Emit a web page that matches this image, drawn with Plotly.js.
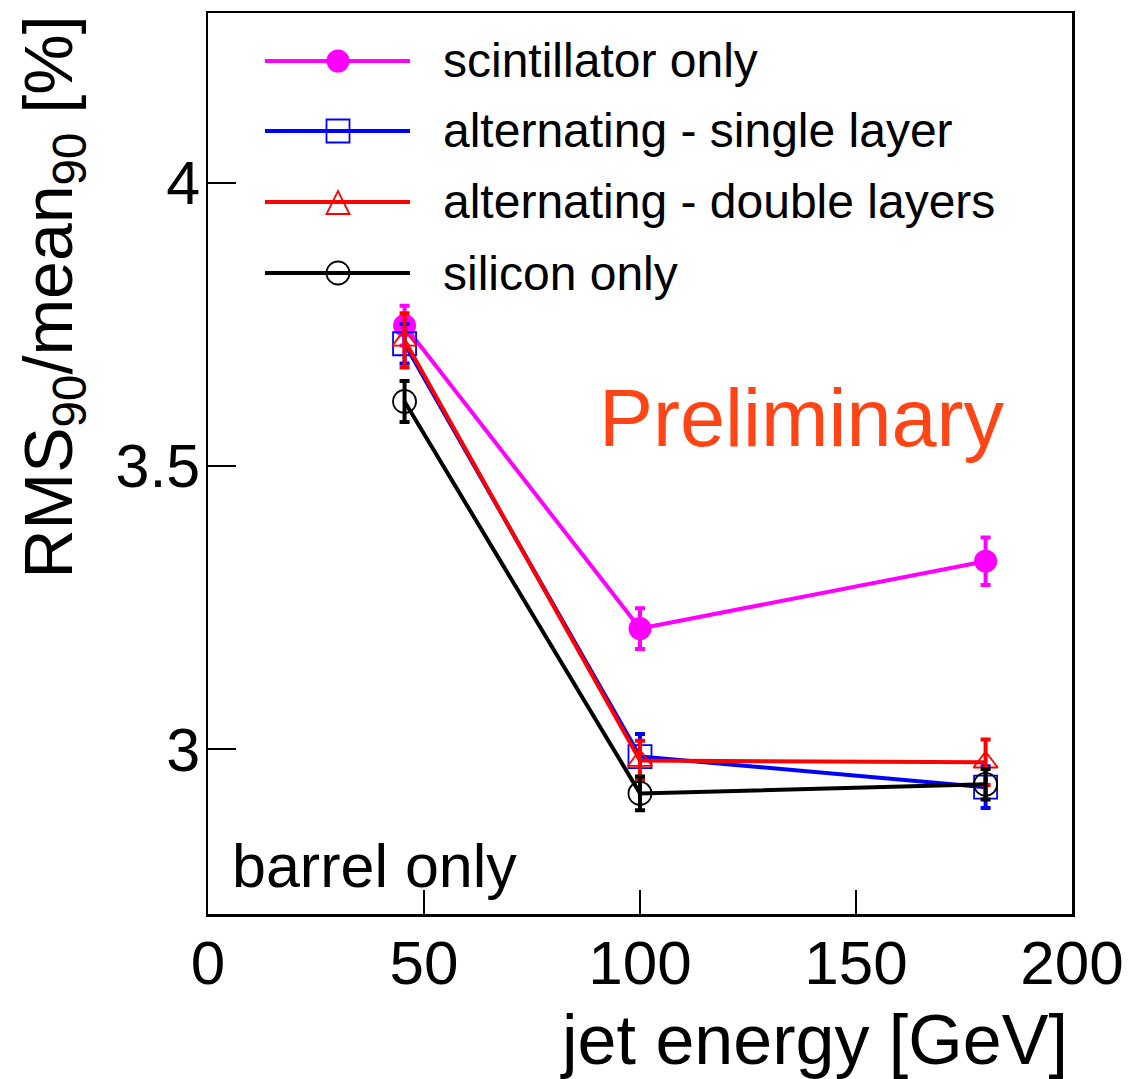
<!DOCTYPE html>
<html>
<head>
<meta charset="utf-8">
<script src="https://cdn.plot.ly/plotly-3.0.1.min.js"></script>
<style>html,body{margin:0;padding:0;background:#fff;}#chart{width:1129px;height:1079px;}</style>
</head>
<body>
<div id="chart"></div>
<script>
// ---- data ----
var energy = [45.5, 100, 180];
var seriesNames = ["scintillator only", "alternating - single layer", "alternating - double layers", "silicon only"];
var scintVal = [3.748, 3.213, 3.332];
var scintErr = [0.035, 0.036, 0.042];
var singleVal = [3.716, 2.987, 2.933];
var singleErr = [0.035, 0.040, 0.037];
var doubleVal = [3.722, 2.980, 2.977];
var doubleErr = [0.048, 0.035, 0.040];
var siliconVal = [3.614, 2.922, 2.938];
var siliconErr = [0.036, 0.030, 0.027];
var xTicks = [0, 50, 100, 150, 200];
var yTicks = [3, 3.5, 4];

var FONT = "Liberation Sans, Arial, Helvetica, sans-serif";
var colors = ["#ff00ff", "#0000ff", "#ff0000", "#000000"];
var symbols = ["circle", "square-open", "triangle-up-open", "circle-open"];
var sizes = [23, 23, 21, 23];
var vals = [scintVal, singleVal, doubleVal, siliconVal];
var errs = [scintErr, singleErr, doubleErr, siliconErr];

var traces = vals.map(function (v, i) {
  return {
    x: energy, y: v, name: seriesNames[i], type: "scatter", mode: "lines+markers",
    line: {color: colors[i], width: 4},
    marker: {symbol: symbols[i], size: sizes[i], color: colors[i],
             line: {color: colors[i], width: i === 0 ? 0 : 1.8}},
    error_y: {type: "data", array: errs[i], visible: true, color: colors[i], thickness: 4, width: 5},
    showlegend: false
  };
});

// ---- custom ROOT-style legend (paper coordinates) ----
var L = 208, T = 13, W = 864, H = 901;
function px(x) { return (x - L) / W; }
function py(y) { return (T + H - y) / H; }
var rowsY = [61, 131, 202, 273];
var shapes = [];
var annotations = [];
rowsY.forEach(function (ry, i) {
  shapes.push({type: "line", xref: "paper", yref: "paper", x0: px(265), x1: px(410), y0: py(ry), y1: py(ry),
               line: {color: colors[i], width: 4}});
  var base = {xref: "paper", yref: "paper", xsizemode: "pixel", ysizemode: "pixel",
              xanchor: px(338), yanchor: py(ry)};
  var m;
  if (i === 0) {
    m = Object.assign({type: "circle", x0: -11.5, x1: 11.5, y0: -11.5, y1: 11.5,
                       fillcolor: colors[i], line: {color: colors[i], width: 0}}, base);
  } else if (i === 1) {
    m = Object.assign({type: "rect", x0: -11.5, x1: 11.5, y0: -11.5, y1: 11.5,
                       fillcolor: "rgba(0,0,0,0)", line: {color: colors[i], width: 1.8}}, base);
  } else if (i === 2) {
    m = Object.assign({type: "path", path: "M -11.5,-12 L 11.5,-12 L 0,11 Z",
                       fillcolor: "rgba(0,0,0,0)", line: {color: colors[i], width: 1.8}}, base);
  } else {
    m = Object.assign({type: "circle", x0: -11.5, x1: 11.5, y0: -11.5, y1: 11.5,
                       fillcolor: "rgba(0,0,0,0)", line: {color: colors[i], width: 1.8}}, base);
  }
  shapes.push(m);
  annotations.push({xref: "paper", yref: "paper", x: px(441), y: py(ry), xanchor: "left", yanchor: "middle",
                    text: seriesNames[i], showarrow: false, font: {family: FONT, size: 48, color: "#000"}});
});

annotations.push({xref: "paper", yref: "paper", x: px(597), y: py(418), xanchor: "left", yanchor: "middle",
                  text: "Preliminary", showarrow: false, font: {family: FONT, size: 81, color: "#ff4515"}});
annotations.push({xref: "paper", yref: "paper", x: px(230), y: py(866), xanchor: "left", yanchor: "middle",
                  text: "barrel only", showarrow: false, font: {family: FONT, size: 61, color: "#000"}});
annotations.push({xref: "paper", yref: "paper", x: px(1070), y: py(1040), xanchor: "right", yanchor: "middle",
                  text: "jet energy [GeV]", showarrow: false, font: {family: FONT, size: 70, color: "#000"}});
annotations.push({xref: "paper", yref: "paper", x: px(52), y: py(14), xanchor: "center", yanchor: "top",
                  textangle: -90, text: "RMS<sub>90</sub>/mean<sub>90</sub> [%]", showarrow: false,
                  font: {family: FONT, size: 68, color: "#000"}});

var layout = {
  width: 1129, height: 1079,
  margin: {l: L, r: 1129 - L - W, t: T, b: 1079 - T - H, pad: 0},
  paper_bgcolor: "#fff", plot_bgcolor: "#fff",
  font: {family: FONT, color: "#000"},
  xaxis: {range: [0, 200], tickvals: xTicks, ticktext: xTicks.map(String), ticks: "inside", ticklen: 24,
          tickwidth: 1.5, tickcolor: "#000", showgrid: false, zeroline: false, showline: true, mirror: true,
          linecolor: "#000", linewidth: 2.5, tickfont: {family: FONT, size: 62, color: "#000"},
          ticklabelstandoff: -7},
  yaxis: {range: [2.709, 4.3], tickvals: yTicks, ticktext: ["3", "3.5", "4"], ticks: "inside", ticklen: 28,
          tickwidth: 1.5, tickcolor: "#000", showgrid: false, zeroline: false, showline: true, mirror: true,
          linecolor: "#000", linewidth: 2.5, tickfont: {family: FONT, size: 61, color: "#000"},
          ticklabelstandoff: -7},
  shapes: shapes,
  annotations: annotations,
  showlegend: false
};

Plotly.newPlot("chart", traces, layout, {displayModeBar: false, staticPlot: true});
</script>
</body>
</html>
